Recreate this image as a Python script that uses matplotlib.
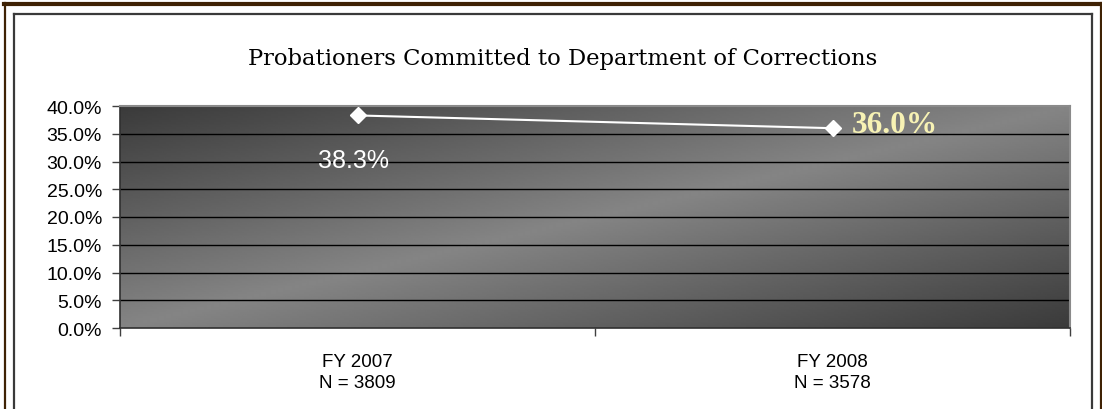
import numpy as np
import matplotlib
matplotlib.use("Agg")
from matplotlib import pyplot as plt
from matplotlib.lines import Line2D

categories = ["FY 2007\nN = 3809", "FY 2008\nN = 3578"]
values = [0.383, 0.360]
point_labels = ["38.3%", "36.0%"]
title = "Probationers Committed to Department of Corrections"
yticks = [0.0, 0.05, 0.10, 0.15, 0.20, 0.25, 0.30, 0.35, 0.40]

W, H = 1102, 410
fig = plt.figure(figsize=(W / 100, H / 100), dpi=100)
sans = "Liberation Sans"
serif = "Liberation Serif"

# outer brown frame and inner chart border (pixel coords)
def px_line(xs, ys, color, lw):
    fig.add_artist(Line2D([x / W for x in xs], [1 - y / H for y in ys],
                          color=color, linewidth=lw, transform=fig.transFigure))

brown = "#3f2204"
px_line([4, 1102], [5, 5], brown, 3.0)
px_line([5, 5], [4, 410], brown, 1.6)
px_line([1100.5, 1100.5], [4, 410], brown, 1.6)
px_line([14, 1092], [15, 15], "#3a3a3a", 1.6)
px_line([14, 14], [15, 410], "#3a3a3a", 1.6)
px_line([1092, 1092], [15, 410], "#3a3a3a", 1.6)

ax = fig.add_axes([120 / W, 1 - 329 / H, 950 / W, 222 / H])

# diagonal gradient background: dark corners top-left / bottom-right
u = np.linspace(0, 1, 400)
v = np.linspace(0, 1, 120)
uu, vv = np.meshgrid(u, v)
t = (uu + vv) / 2
shade = 1 - np.abs(2 * t - 1)
dark, light = 0.23, 0.52
img = dark + (light - dark) * shade
ax.imshow(img, cmap="gray", vmin=0, vmax=1, extent=[0, 1, 0, 1],
          transform=ax.transAxes, aspect="auto", zorder=0, interpolation="bilinear")

x = np.arange(len(categories))
ax.set_xlim(-0.5, len(categories) - 0.5)
ax.set_ylim(0, 0.40)

for yv in yticks[1:-1]:
    ax.axhline(yv, color="black", linewidth=1.0, zorder=1)

ax.plot(x, values, color="white", linewidth=1.5, marker="D", markersize=8.5,
        markerfacecolor="white", markeredgecolor="white", zorder=3)

ax.annotate(point_labels[0], (x[0], values[0]), xytext=(-3, -32),
            textcoords="offset points", ha="center", va="center",
            color="white", fontsize=18, family=sans, zorder=4)
ax.annotate(point_labels[1], (x[1], values[1]), xytext=(14, 3),
            textcoords="offset points", ha="left", va="center",
            color="#f7f2b4", fontsize=22.5, fontweight="bold", family=serif, zorder=4)

ax.set_yticks(yticks)
ax.set_yticklabels([f"{yv * 100:.1f}%" for yv in yticks], fontsize=14, family=sans)
ax.set_xticks(x)
ax.set_xticklabels(categories, fontsize=13.5, family=sans, linespacing=1.3)
ax.set_xticks([-0.5, 0.5, 1.5], minor=True)
ax.tick_params(axis="x", which="major", length=0, pad=18)
ax.tick_params(axis="x", which="minor", length=6, color="#404040", width=1)
ax.tick_params(axis="y", length=6, color="#404040", width=1, pad=7)

for side in ["top", "right"]:
    ax.spines[side].set_color("#8a8a8a")
    ax.spines[side].set_linewidth(1.5)
for side in ["left", "bottom"]:
    ax.spines[side].set_color("#303030")
    ax.spines[side].set_linewidth(1.2)

fig.text(563 / W, 1 - 59 / H, title, ha="center", va="center",
         fontsize=16.3, family="DejaVu Serif")

fig.savefig("out.png", dpi=100)
